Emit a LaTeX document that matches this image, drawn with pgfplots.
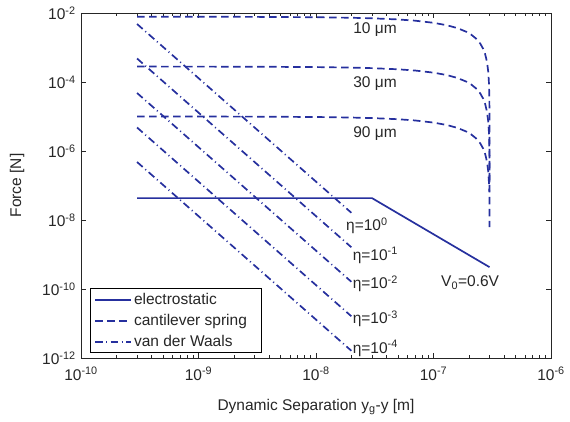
\documentclass[border=0pt]{standalone}
\usepackage{fontspec}
\setmainfont{Liberation Sans}
\usepackage{pgfplots}
\pgfplotsset{compat=1.18}
\definecolor{mblue}{RGB}{38,48,158}
\begin{document}
\fontsize{15.5}{18}\selectfont
\begin{tikzpicture}
\useasboundingbox (-81pt,-64pt) rectangle (489pt,358pt);
\begin{axis}[
  at={(0pt,0pt)}, anchor=south west,
  scale only axis, width=470pt, height=345pt,
  xmode=log, ymode=log,
  xmin=1e-10, xmax=1e-6, ymin=1e-12, ymax=1e-2,
  xtick={1e-10,1e-9,1e-8,1e-7,1e-6},
  xticklabels={10\textsuperscript{-10},10\textsuperscript{-9},10\textsuperscript{-8},10\textsuperscript{-7},10\textsuperscript{-6}},
  minor xtick={2e-10,3e-10,4e-10,5e-10,6e-10,7e-10,8e-10,9e-10,
               2e-9,3e-9,4e-9,5e-9,6e-9,7e-9,8e-9,9e-9,
               2e-8,3e-8,4e-8,5e-8,6e-8,7e-8,8e-8,9e-8,
               2e-7,3e-7,4e-7,5e-7,6e-7,7e-7,8e-7,9e-7},
  ytick={1e-12,1e-10,1e-8,1e-6,1e-4,1e-2},
  yticklabels={10\textsuperscript{-12},10\textsuperscript{-10},10\textsuperscript{-8},10\textsuperscript{-6},10\textsuperscript{-4},10\textsuperscript{-2}},
  yminorticks=false,
  tick align=inside,
  major tick length=5pt, minor tick length=3pt,
  axis line style={line width=0.9pt, black!85},
  every tick/.style={black!85, line width=0.6pt},
  tick label style={font=\fontsize{15.5}{18}\selectfont, text=black!85},
  xticklabel style={yshift=-4pt},
  xlabel={Dynamic Separation y\textsubscript{g}-y [m]},
  ylabel={Force [N]},
  label style={font=\fontsize{15.5}{18}\selectfont, text=black!85},
  xlabel style={at={(axis description cs:0.5,-0.143)}, anchor=center},
  ylabel style={at={(axis description cs:-0.136,0.5)}, anchor=center},
  legend style={at={(axis description cs:0.019,0.0145)}, anchor=south west,
    draw=black, line width=0.9pt, fill=white,
    font=\fontsize{15.5}{18}\selectfont, text=black!85,
    inner xsep=4pt, inner ysep=2pt, row sep=3.5pt},
  legend cell align=left,
  legend image code/.code={\draw[#1, line width=1.7pt] (0pt,0pt) -- (36pt,0pt);},
  clip=true,
]
% electrostatic
\addplot[mblue, line width=1.7pt] coordinates {(3e-10,4.3e-8) (3e-8,4.3e-8) (3e-7,4.3e-10)};
\addlegendentry{electrostatic}
% cantilever spring 10 um
\addplot[mblue, line width=1.7pt, dash pattern=on 7.5pt off 4.5pt] coordinates {
(3e-10,7.792e-3) (1e-9,7.774e-3) (3e-9,7.722e-3) (1e-8,7.54e-3) (2e-8,7.28e-3)
(3e-8,7.02e-3) (5e-8,6.5e-3) (7e-8,5.98e-3) (1e-7,5.2e-3) (1.3e-7,4.42e-3)
(1.6e-7,3.64e-3) (1.9e-7,2.86e-3) (2.1e-7,2.34e-3) (2.3e-7,1.82e-3) (2.5e-7,1.3e-3)
(2.65e-7,9.1e-4) (2.75e-7,6.5e-4) (2.85e-7,3.9e-4) (2.92e-7,2.08e-4) (2.96e-7,1.04e-4)
(2.98e-7,5.2e-5) (2.99e-7,2.6e-5) (2.997e-7,7.8e-6) (2.999e-7,2.6e-6) (2.9997e-7,7.8e-7)
(2.99997e-7,7.8e-8) (2.9999976e-7,6.2e-9)};
\addlegendentry{cantilever spring\hspace*{9pt}\mbox{}}
% van der Waals eta=1
\addplot[mblue, line width=1.7pt, dash pattern=on 7.5pt off 3.5pt on 1pt off 3.5pt] coordinates {(3e-10,4.8e-3) (2e-8,1.62e-8)};
\addlegendentry{van der Waals}
% cantilever 30 um
\addplot[mblue, line width=1.7pt, dash pattern=on 7.5pt off 4.5pt, forget plot] coordinates {
(3e-10,2.797e-4) (1e-9,2.791e-4) (3e-9,2.772e-4) (1e-8,2.707e-4) (2e-8,2.613e-4)
(3e-8,2.52e-4) (5e-8,2.333e-4) (7e-8,2.147e-4) (1e-7,1.867e-4) (1.3e-7,1.587e-4)
(1.6e-7,1.307e-4) (1.9e-7,1.027e-4) (2.1e-7,8.4e-5) (2.3e-7,6.53e-5) (2.5e-7,4.67e-5)
(2.65e-7,3.27e-5) (2.75e-7,2.33e-5) (2.85e-7,1.4e-5) (2.92e-7,7.47e-6) (2.96e-7,3.73e-6)
(2.98e-7,1.87e-6) (2.99e-7,9.33e-7) (2.997e-7,2.8e-7) (2.999e-7,9.33e-8)};
% cantilever 90 um
\addplot[mblue, line width=1.7pt, dash pattern=on 7.5pt off 4.5pt, forget plot] coordinates {
(3e-10,9.99e-6) (1e-9,9.967e-6) (3e-9,9.9e-6) (1e-8,9.667e-6) (2e-8,9.333e-6)
(3e-8,9.0e-6) (5e-8,8.333e-6) (7e-8,7.667e-6) (1e-7,6.667e-6) (1.3e-7,5.667e-6)
(1.6e-7,4.667e-6) (1.9e-7,3.667e-6) (2.1e-7,3.0e-6) (2.3e-7,2.333e-6) (2.5e-7,1.667e-6)
(2.65e-7,1.167e-6) (2.75e-7,8.33e-7) (2.85e-7,5.0e-7) (2.92e-7,2.67e-7) (2.96e-7,1.33e-7)
(2.98e-7,6.67e-8)};
% van der Waals other eta
\addplot[mblue, line width=1.7pt, dash pattern=on 7.5pt off 3.5pt on 1pt off 3.5pt, forget plot] coordinates {(3e-10,4.8e-4) (2e-8,1.62e-9)};
\addplot[mblue, line width=1.7pt, dash pattern=on 7.5pt off 3.5pt on 1pt off 3.5pt, forget plot] coordinates {(3e-10,4.8e-5) (2e-8,1.62e-10)};
\addplot[mblue, line width=1.7pt, dash pattern=on 7.5pt off 3.5pt on 1pt off 3.5pt, forget plot] coordinates {(3e-10,4.8e-6) (2e-8,1.62e-11)};
\addplot[mblue, line width=1.7pt, dash pattern=on 7.5pt off 3.5pt on 1pt off 3.5pt, forget plot] coordinates {(3e-10,4.8e-7) (2e-8,1.62e-12)};
% annotations
\node[text=black!85] at (axis cs:3.18e-8,3.4e-3) {10 μm};
\node[text=black!85] at (axis cs:3.18e-8,0.93e-4) {30 μm};
\node[text=black!85] at (axis cs:3.18e-8,3.1e-6) {90 μm};
\node[text=black!85, anchor=west, inner sep=0pt] at (axis cs:1.8e-8,6.8e-9) {η=10\textsuperscript{0}};
\node[text=black!85, anchor=west, inner sep=0pt] at (axis cs:2.05e-8,9.5e-10) {η=10\textsuperscript{-1}};
\node[text=black!85, anchor=west, inner sep=0pt] at (axis cs:2.05e-8,1.45e-10) {η=10\textsuperscript{-2}};
\node[text=black!85, anchor=west, inner sep=0pt] at (axis cs:2.05e-8,1.4e-11) {η=10\textsuperscript{-3}};
\node[text=black!85, anchor=west, inner sep=0pt] at (axis cs:2.05e-8,1.9e-12) {η=10\textsuperscript{-4}};
\node[text=black!85] at (axis cs:2.05e-7,1.5e-10) {V\textsubscript{0}=0.6V};
\end{axis}
\end{tikzpicture}
\end{document}
